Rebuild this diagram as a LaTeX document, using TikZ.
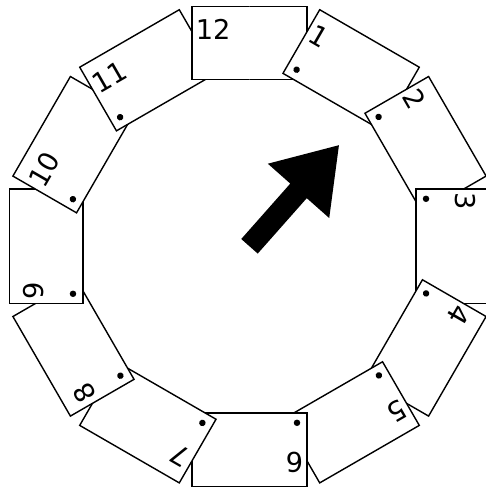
\documentclass[tikz,border=0pt]{standalone}
\usepackage{fontspec}
\setsansfont{DejaVu Sans}
\usetikzlibrary{arrows.meta,positioning,calc}

\begin{document}
\begin{tikzpicture}[
    x=0.02cm, y=0.02cm,
    font=\sffamily,
    card/.style={draw, fill=white, line width=0.8pt, inner sep=0pt, outer sep=0pt,
        minimum width=2.3cm, minimum height=1.47cm},
    cardlabel/.style={inner sep=0pt, anchor=base west,
        font=\sffamily\fontsize{15.5}{18}\selectfont},
    hole/.style={circle, fill=black, inner sep=0pt, minimum size=0.13cm}
]

% Page frame
\useasboundingbox (-249.5,-243.7) rectangle (236.5,246.3);

% Card 12 (bottom of the pile)
\node[card] (card12) at (0,203.25) {};

% Cards 1 to 11, each one turned a further 30 degrees
\foreach \k in {1,...,11}{
  \begin{scope}[rotate=-30*\k, transform shape]
    \node[card] (card\k) at (0,203.25) {};
    \node[cardlabel] (label\k) at (-54,206.3) {\k};
    \node[hole] (hole\k) at (-47.5,176.5) {};
  \end{scope}
}

% Card 12 again, over card 11 only (left half)
\begin{scope}
  \clip (-249.5,-243.7) rectangle (0,246.3);
  \node[card] (card12top) at (0,203.25) {};
\end{scope}
\node[cardlabel] (label12) at (-54,206.3) {12};

% Arrow
\fill[rotate=48.5] (0,-11) -- (74,-11) -- (74,-41) -- (135,0) -- (74,41) -- (74,11) -- (0,11) -- cycle;

\end{tikzpicture}
\end{document}
